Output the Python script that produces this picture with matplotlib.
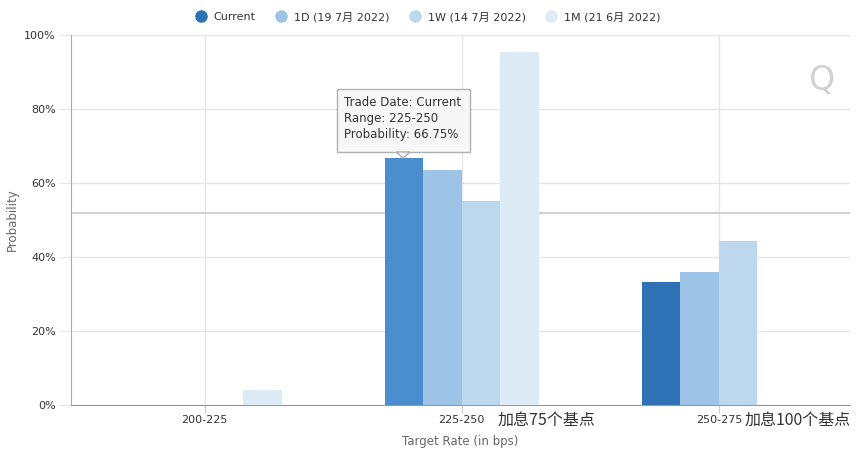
import matplotlib
matplotlib.use("Agg")
import matplotlib.pyplot as plt
import numpy as np
from matplotlib.patches import FancyBboxPatch, Polygon

plt.rcParams["font.family"] = ["DejaVu Sans", "Noto Sans CJK SC"]

# ---- data ----
categories = ["200-225", "225-250", "250-275"]
series = ["Current", "1D (19 7月 2022)", "1W (14 7月 2022)", "1M (21 6月 2022)"]
current = [0.0, 66.75, 33.25]
d1 = [0.0, 63.5, 36.0]
w1 = [0.0, 55.2, 44.3]
m1 = [4.0, 95.4, 0.0]
colors = ["#2e72b5", "#9dc3e6", "#bdd7ee", "#ddebf7"]
hover_color = "#4a8ecf"
notes = {1: ("加息75个基点", 0.14), 2: ("加息100个基点", 0.10)}

W, H = 858, 457
fig = plt.figure(figsize=(W / 100, H / 100), dpi=100)
L, R, T, B = 71, 850, 35, 405
ax = fig.add_axes([L / W, 1 - B / H, (R - L) / W, (B - T) / H])

x = np.arange(len(categories))
bw = 0.15
for i, vals in enumerate([current, d1, w1, m1]):
    cols = [colors[i]] * len(vals)
    if i == 0:
        cols[1] = hover_color
    ax.bar(x + (i - 1.5) * bw, vals, width=bw, color=cols, lw=0, zorder=3)

ax.set_xlim(-0.52, 2.51)
ax.set_ylim(0, 100)
ax.set_yticks(range(0, 101, 20))
ax.set_yticklabels([f"{v}%" for v in range(0, 101, 20)], fontsize=8, color="#333333")
ax.set_xticks(x)
ax.set_xticklabels(categories, fontsize=8, color="#333333")
ax.grid(True, color="#e6e6e6", lw=1, zorder=0)
for s in ["top", "right"]:
    ax.spines[s].set_visible(False)
ax.spines["left"].set_color("#aaaaaa")
ax.spines["bottom"].set_color("#999999")
ax.tick_params(axis="y", length=9, color="#e6e6e6", pad=2)
ax.tick_params(axis="x", length=6, color="#cccccc", pad=1.5)
ax.set_xlabel("Target Rate (in bps)", fontsize=8.5, color="#666666", labelpad=7)
ax.set_ylabel("Probability", fontsize=8.5, color="#666666", labelpad=4)

# crosshair from hover
ax.axhline(52, color="#c8c8c8", lw=1.2, zorder=2)

# annotations next to tick labels
for k, (txt, off) in notes.items():
    ax.text(k + off, -1.8, txt, fontsize=11.5, color="#333333", va="top", ha="left",
            family=["Noto Sans CJK SC", "DejaVu Sans"])

# tooltip
tx0, ty0 = 337 / W, 1 - 152 / H
box = FancyBboxPatch((tx0, ty0), 133 / W, 63 / H, boxstyle="square,pad=0",
                     transform=fig.transFigure, fc="#f7f7f7", ec="#b0b0b0", lw=1, zorder=10)
fig.patches.append(box)
tip = Polygon([[396 / W, 1 - 152 / H], [410 / W, 1 - 152 / H], [403 / W, 1 - 158 / H]],
              closed=True, transform=fig.transFigure, fc="#f7f7f7", ec="#b0b0b0", lw=1, zorder=11)
fig.patches.append(tip)
fig.text(344 / W, 1 - 96 / H, "Trade Date: Current\nRange: 225-250\nProbability: 66.75%",
         fontsize=8.5, color="#333333", va="top", ha="left", linespacing=1.3, zorder=12)

# watermark
fig.text(821 / W, 1 - 80 / H, "Q", fontsize=24, color="#d2d2d2", ha="center", va="center")

# legend
handles = [plt.Line2D([], [], marker="o", ls="", color=c, markersize=8) for c in colors]
fig.legend(handles, series, loc="center", bbox_to_anchor=(426 / W, 1 - 17 / H), ncol=4,
           frameon=False, labelcolor="#333333", handletextpad=0.35, handlelength=1.6,
           columnspacing=1.5, prop={"family": ["DejaVu Sans", "Noto Sans CJK SC"], "size": 8})

fig.savefig("out.png", dpi=100)
